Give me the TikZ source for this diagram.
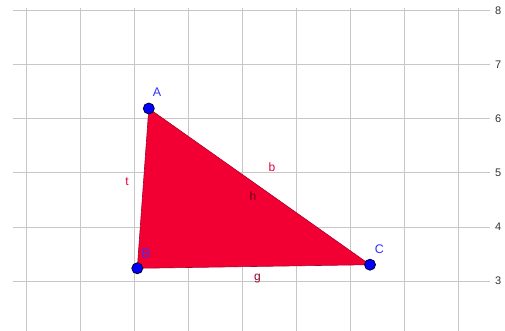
\documentclass[tikz,border=0pt]{standalone}
\usepackage{fontspec}
\setmainfont{Liberation Sans}
\begin{document}
\begin{tikzpicture}[x=1pt,y=-1pt,
  gridline/.style={draw=black!22, line width=0.9pt},
  pt/.style={circle, fill=blue, draw=black!80!blue, line width=0.8pt, minimum size=11pt, inner sep=0pt},
  ptlabel/.style={text=blue!80!white, font=\fontsize{12.5}{12.5}\selectfont, inner sep=0pt},
  edgelabel/.style={text={rgb,255:red,225;green,0;blue,60}, font=\fontsize{12}{12}\selectfont, inner sep=0pt},
  ticklabel/.style={text=black!80, font=\fontsize{11}{11}\selectfont, inner sep=0pt}]
\useasboundingbox (0,0) rectangle (505,331);
\fill[white] (0,0) rectangle (505,331);
% grid
\foreach \x in {26,80,134,188,242,296,350,404,458} \draw[gridline] (\x,8) -- (\x,331);
\foreach \y/\l in {10.7/8,64.8/7,118.8/6,172.8/5,227/4,281/3} {
  \draw[gridline] (13,\y) -- (490,\y);
  \node[ticklabel, anchor=west] at (495,\y) {\l};
}
% triangle
\coordinate (A) at (148.8,108.5);
\coordinate (B) at (137.3,268.3);
\coordinate (C) at (370,264.7);
\fill[fill={rgb,255:red,242;green,0;blue,52}, draw={rgb,255:red,170;green,0;blue,40}, line width=0.6pt] (A) -- (B) -- (C) -- cycle;
% edge labels
\node[edgelabel] (t) at (127,182) {t};
\node[edgelabel] (b) at (272,167) {b};
\node[edgelabel, text={rgb,255:red,110;green,0;blue,20}] (h) at (253,196) {h};
\node[edgelabel, text={rgb,255:red,150;green,0;blue,35}] (g) at (257.5,279) {g};
% points
\node[pt] (pA) at (A) {};
\node[pt] (pB) at (B) {};
\node[pt] (pC) at (C) {};
\node[ptlabel] (lA) at (157,92.5) {A};
\node[ptlabel] (lB) at (146,253) {B};
\node[ptlabel] (lC) at (379.5,249.5) {C};
\end{tikzpicture}
\end{document}
